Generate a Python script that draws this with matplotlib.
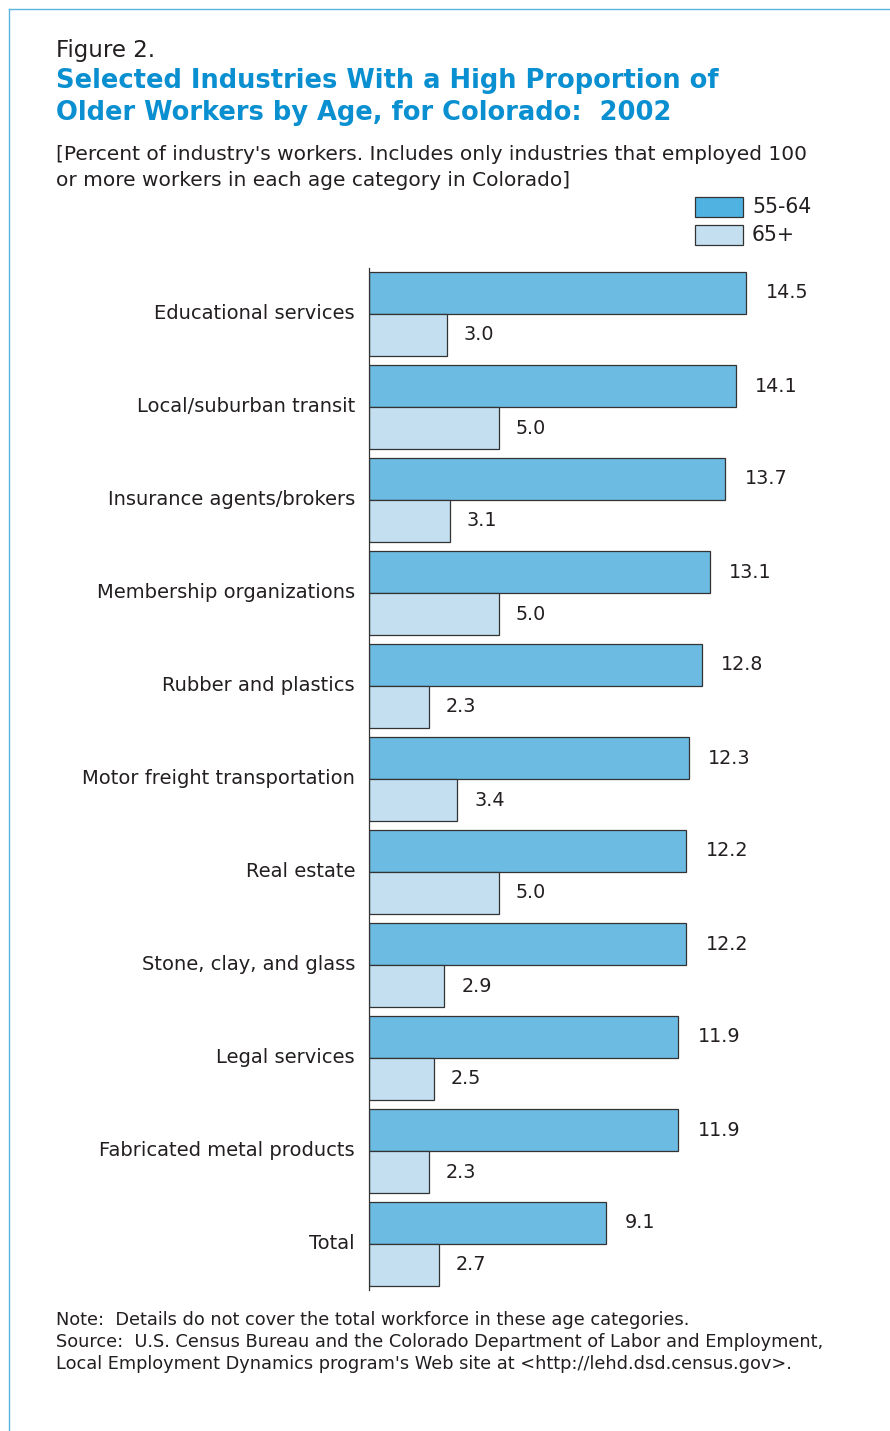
import matplotlib
matplotlib.use("Agg")
import matplotlib.pyplot as plt
from matplotlib.patches import Rectangle
from matplotlib.lines import Line2D
import numpy as np

industries = ["Educational services", "Local/suburban transit", "Insurance agents/brokers",
              "Membership organizations", "Rubber and plastics", "Motor freight transportation",
              "Real estate", "Stone, clay, and glass", "Legal services",
              "Fabricated metal products", "Total"]
age_55_64 = [14.5, 14.1, 13.7, 13.1, 12.8, 12.3, 12.2, 12.2, 11.9, 11.9, 9.1]
age_65_plus = [3.0, 5.0, 3.1, 5.0, 2.3, 3.4, 5.0, 2.9, 2.5, 2.3, 2.7]

W, H = 890, 1431
dark = "#6cbbe3"
light = "#c3dff0"
txt = "#231f20"
blue = "#0a8fd0"

plt.rcParams['font.family'] = ['DejaVu Sans']

fig = plt.figure(figsize=(W / 100, H / 100), dpi=100)

def fx(x):
    return x / W

def fy(y):
    return 1 - y / H

# frame
fig.add_artist(Line2D([fx(8.5), fx(8.5)], [fy(8.5), 0], transform=fig.transFigure, color="#5ab4e0", lw=1))
fig.add_artist(Line2D([fx(8.5), 1], [fy(8.5), fy(8.5)], transform=fig.transFigure, color="#5ab4e0", lw=1))

# header text
fig.text(fx(56), fy(50), "Figure 2.", fontsize=16.5, color=txt, va="center")
fig.text(fx(56), fy(81), "Selected Industries With a High Proportion of", fontsize=18.5,
         fontweight="bold", color=blue, va="center")
fig.text(fx(56), fy(113), "Older Workers by Age, for Colorado:  2002", fontsize=18.5,
         fontweight="bold", color=blue, va="center")
fig.text(fx(56), fy(155), "[Percent of industry's workers. Includes only industries that employed 100",
         fontsize=14.5, color=txt, va="center")
fig.text(fx(56), fy(181), "or more workers in each age category in Colorado]",
         fontsize=14.5, color=txt, va="center")

# axes
ax_left, ax_right, ax_top, ax_bot = 369, 889, 268, 1290
ax = fig.add_axes([fx(ax_left), fy(ax_bot), fx(ax_right - ax_left), (ax_bot - ax_top) / H])

bh = 42 / 93
y = np.arange(len(industries))
b1 = ax.barh(y - bh / 2, age_55_64, height=bh, color=dark, edgecolor="#333333", linewidth=0.9)
b2 = ax.barh(y + bh / 2, age_65_plus, height=bh, color=light, edgecolor="#333333", linewidth=0.9)

ax.set_xlim(0, 20)
ax.set_ylim(10 + 46 / 93, -46 / 93)
for s in ["top", "right", "bottom"]:
    ax.spines[s].set_visible(False)
ax.spines["left"].set_color("#333333")
ax.spines["left"].set_linewidth(0.9)
ax.set_xticks([])
ax.set_yticks(y - 0.03)
ax.set_yticklabels(industries, fontsize=14, color=txt)
ax.tick_params(axis="y", length=0, pad=10)

for i in range(len(industries)):
    ax.text(age_55_64[i] + 0.75, y[i] - bh / 2, f"{age_55_64[i]:.1f}", fontsize=13.8,
            color=txt, va="center", ha="left")
    ax.text(age_65_plus[i] + 0.65, y[i] + bh / 2, f"{age_65_plus[i]:.1f}", fontsize=13.8,
            color=txt, va="center", ha="left")

# legend
for yy, c, lab in [(197, "#4fb2e1", "55-64"), (225, light, "65+")]:
    fig.add_artist(Rectangle((fx(695), fy(yy + 20)), fx(48), 20 / H, transform=fig.transFigure,
                             facecolor=c, edgecolor="#333333", linewidth=0.9))
    fig.text(fx(752), fy(yy + 10), lab, fontsize=14.8, color=txt, va="center")

# notes
fig.text(fx(56), fy(1320), "Note:  Details do not cover the total workforce in these age categories.",
         fontsize=12.8, color=txt, va="center")
fig.text(fx(56), fy(1342), "Source:  U.S. Census Bureau and the Colorado Department of Labor and Employment,",
         fontsize=12.8, color=txt, va="center")
fig.text(fx(56), fy(1364), "Local Employment Dynamics program's Web site at <http://lehd.dsd.census.gov>.",
         fontsize=12.8, color=txt, va="center")

fig.savefig("out.png", dpi=100)
